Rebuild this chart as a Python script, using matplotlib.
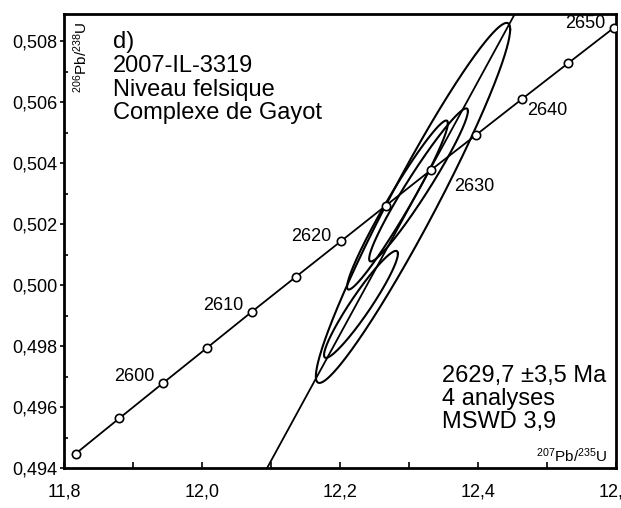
import numpy as np
import matplotlib
matplotlib.use("Agg")
import matplotlib.pyplot as plt
from matplotlib.ticker import MultipleLocator, FuncFormatter

plt.rcParams['font.family'] = ['Liberation Sans', 'DejaVu Sans']
plt.rcParams['mathtext.fontset'] = 'custom'
plt.rcParams['mathtext.rm'] = 'Liberation Sans'
plt.rcParams['mathtext.it'] = 'Liberation Sans:italic'
plt.rcParams['mathtext.bf'] = 'Liberation Sans:bold'

# ---- data -------------------------------------------------------------
# concordia points (every 5 Ma)
conc_age = [2590, 2595, 2600, 2605, 2610, 2615, 2620, 2625, 2630, 2635, 2640, 2645, 2650]
conc_x = [11.8169, 11.8801, 11.9437, 12.0076, 12.0718, 12.1364, 12.2012,
          12.2664, 12.3319, 12.3977, 12.4638, 12.5303, 12.5971]
conc_y = [0.49447, 0.49563, 0.49679, 0.49795, 0.49912, 0.50028, 0.50144,
          0.50261, 0.50378, 0.50494, 0.50611, 0.50728, 0.50845]
label_ages = [2600, 2610, 2620, 2630, 2640, 2650]

# discordia / regression line
disc_x = [11.998, 12.528]
disc_y = [0.490, 0.512]

# analyses: centre, 2-sigma errors and error correlation
ell_x = [12.3058, 12.3138, 12.2833, 12.2304]
ell_y = [0.50270, 0.50329, 0.50263, 0.49937]
ell_sx = [0.14080, 0.07157, 0.07304, 0.05354]
ell_sy = [0.005908, 0.002512, 0.002774, 0.001756]
ell_rho = [0.9636, 0.9646, 0.9675, 0.9455]

x_ticks = [11.8, 12.0, 12.2, 12.4, 12.6]
y_ticks = [0.494, 0.496, 0.498, 0.500, 0.502, 0.504, 0.506, 0.508]

# ---- figure -----------------------------------------------------------
fig = plt.figure(figsize=(6.21, 5.08), dpi=100)
ax = fig.add_axes([64/621, 1-468/508, 552/621, 454/508])
ax.set_xlim(11.8, 12.6)
ax.set_ylim(0.494, 0.5089)

# ellipses
t = np.linspace(0, 2*np.pi, 500)
for cx, cy, sx, sy, r in zip(ell_x, ell_y, ell_sx, ell_sy, ell_rho):
    X = cx + sx*np.cos(t)
    Y = cy + sy*(r*np.cos(t) + np.sqrt(1-r*r)*np.sin(t))
    ax.plot(X, Y, color='black', lw=1.5, zorder=3)

# discordia
ax.plot(disc_x, disc_y, color='black', lw=1.3, zorder=2)

# concordia
ax.plot(conc_x, conc_y, color='black', lw=1.3, zorder=4,
        marker='o', markersize=6, markerfacecolor='white',
        markeredgecolor='black', markeredgewidth=1.2)

offsets = {2600: (-6, 4.5, 'right'), 2610: (-6, 4.5, 'right'),
           2620: (-7, 3.5, 'right'), 2630: (16.5, -12, 'left'),
           2640: (3.5, -8, 'left'), 2650: (-6.5, 3, 'right')}
for a in label_ages:
    i = conc_age.index(a)
    dx, dy, ha = offsets[a]
    ax.annotate(str(a), (conc_x[i], conc_y[i]), xytext=(dx, dy),
                textcoords='offset points', ha=ha, va='center',
                fontsize=13, zorder=5)

# ticks
ax.set_xticks(x_ticks)
ax.xaxis.set_minor_locator(MultipleLocator(0.1))
ax.set_yticks(y_ticks)
ax.yaxis.set_minor_locator(MultipleLocator(0.001))
ax.xaxis.set_major_formatter(FuncFormatter(lambda v, p: f"{v:.1f}".replace('.', ',')))
ax.yaxis.set_major_formatter(FuncFormatter(lambda v, p: f"{v:.3f}".replace('.', ',')))
ax.tick_params(axis='x', which='both', direction='in', length=4, width=1.2,
               labelsize=13, pad=11)
ax.tick_params(axis='y', which='major', direction='out', length=3, width=1.2,
               labelsize=13, pad=2)
ax.tick_params(axis='y', which='minor', direction='in', length=3, width=1.2)
for s in ax.spines.values():
    s.set_linewidth(2.0)

# axis titles inside the frame
ax.text(0.03, 0.905, r'$^{206}$Pb/$^{238}$U', transform=ax.transAxes,
        rotation=90, ha='center', va='center', fontsize=11)
ax.text(0.985, 0.007, r'$^{207}$Pb/$^{235}$U', transform=ax.transAxes,
        ha='right', va='bottom', fontsize=11)

ax.text(0.0888, 0.962, "d)\n2007-IL-3319\nNiveau felsique\nComplexe de Gayot",
        transform=ax.transAxes, ha='left', va='top', fontsize=17,
        linespacing=1.1)
ax.text(0.685, 0.077, "2629,7 ±3,5 Ma\n4 analyses\nMSWD 3,9",
        transform=ax.transAxes, ha='left', va='bottom', fontsize=17,
        linespacing=1.05)

fig.savefig('out.png', dpi=100)
